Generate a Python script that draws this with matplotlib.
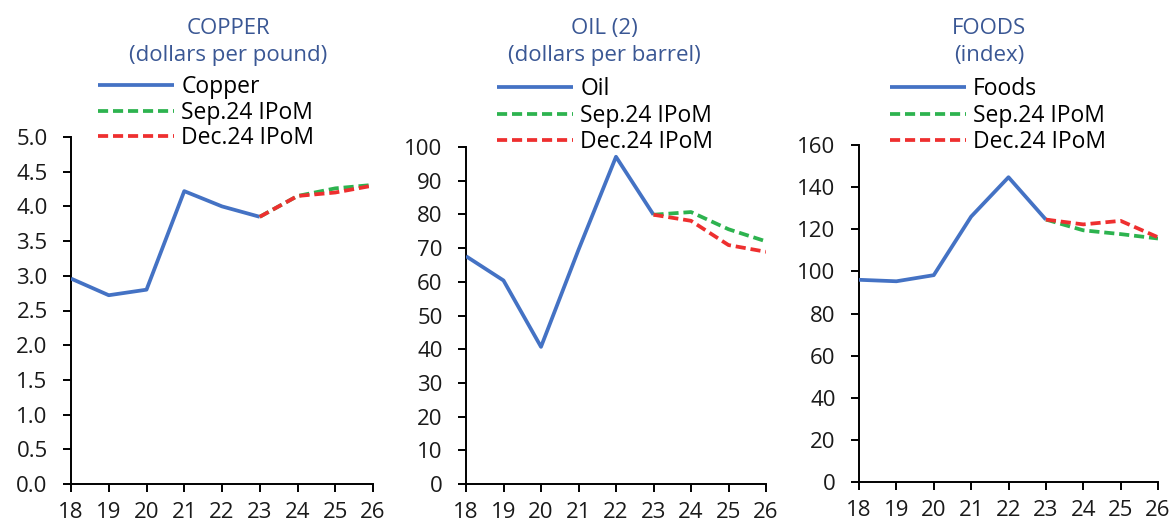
import matplotlib
matplotlib.use("Agg")
import matplotlib.pyplot as plt

plt.rcParams["font.family"] = ["Open Sans", "DejaVu Sans"]

years = [18, 19, 20, 21, 22, 23, 24, 25, 26]
hist_years = [18, 19, 20, 21, 22, 23]
proj_years = [23, 24, 25, 26]

copper_hist = [2.96, 2.72, 2.80, 4.22, 4.00, 3.85]
copper_sep = [3.85, 4.15, 4.26, 4.31]
copper_dec = [3.85, 4.15, 4.20, 4.30]

oil_hist = [67.6, 60.4, 40.7, 69.5, 97.1, 79.9]
oil_sep = [79.9, 80.7, 75.6, 72.0]
oil_dec = [79.9, 78.1, 70.9, 68.9]

foods_hist = [96.0, 95.3, 98.2, 126.0, 144.7, 124.6]
foods_sep = [124.6, 119.5, 117.7, 115.6]
foods_dec = [124.6, 122.3, 124.0, 116.2]

titles = ["COPPER\n(dollars per pound)", "OIL (2)\n(dollars per barrel)", "FOODS\n(index)"]
hist_labels = ["Copper", "Oil", "Foods"]
proj_labels = ["Sep.24 IPoM", "Dec.24 IPoM"]

ylims = [(0, 5.0), (0, 100), (0, 160)]
ysteps = [0.5, 10, 20]
yfmt = ["{:.1f}", "{:.0f}", "{:.0f}"]

BLUE = "#4472C4"
GREEN = "#2DB34F"
RED = "#EE2F2F"
TITLE_C = "#3A5794"

W, H = 1173, 525
fig = plt.figure(figsize=(W / 100, H / 100), dpi=100)

def fx(px):
    return px / W

def fy(py):
    return 1 - py / H

# axes boxes in pixel coords: left, right, top, bottom
boxes = [(71, 373, 137, 484), (466, 766, 147, 484), (859, 1158, 145, 482)]
title_x = [228, 604, 989]
legend_anchor = [(98, 75), (497, 77), (890, 77)]
legend_spacing = [0.07, 0.11, 0.11]

series = [
    (copper_hist, copper_sep, copper_dec),
    (oil_hist, oil_sep, oil_dec),
    (foods_hist, foods_sep, foods_dec),
]

LW = 2.7
DASH = (2.7, 1.3)

for i, (l, r, t, b) in enumerate(boxes):
    ax = fig.add_axes([fx(l), fy(b), fx(r - l), fy(t) - fy(b)])
    hist, sep, dec = series[i]
    ax.plot(hist_years, hist, color=BLUE, lw=LW, label=hist_labels[i],
            solid_capstyle="butt", zorder=3)
    ax.plot(proj_years, sep, color=GREEN, lw=LW, dashes=DASH,
            label=proj_labels[0], zorder=4)
    ax.plot(proj_years, dec, color=RED, lw=LW, dashes=DASH,
            label=proj_labels[1], zorder=5)

    ax.set_xlim(18, 26)
    ax.set_ylim(*ylims[i])
    ax.set_xticks(years)
    ax.set_xticklabels([str(y) for y in years])
    lo, hi = ylims[i]
    n = int(round((hi - lo) / ysteps[i]))
    yt = [lo + k * ysteps[i] for k in range(n + 1)]
    ax.set_yticks(yt)
    ax.set_yticklabels([yfmt[i].format(v) for v in yt])

    for side in ["top", "right"]:
        ax.spines[side].set_visible(False)
    for side in ["left", "bottom"]:
        ax.spines[side].set_linewidth(1.4)
        ax.spines[side].set_color("black")
    ax.tick_params(axis="both", direction="out", width=1.4,
                   labelsize=16, colors="black", labelcolor="#1a1a1a")
    ax.tick_params(axis="x", length=5.8, pad=7)
    ax.tick_params(axis="y", length=5.8, pad=11)
    ax.patch.set_visible(False)

    fig.text(fx(title_x[i]), fy(18), titles[i], ha="center", va="top",
             fontsize=16, color=TITLE_C, linespacing=1.36)

    ax.legend(loc="upper left", bbox_to_anchor=(fx(legend_anchor[i][0]), fy(legend_anchor[i][1])),
              bbox_transform=fig.transFigure, frameon=False, fontsize=16.5,
              handlelength=3.3, handletextpad=0.33, labelspacing=legend_spacing[i],
              borderpad=0, borderaxespad=0)

fig.savefig("out.png", dpi=100)
